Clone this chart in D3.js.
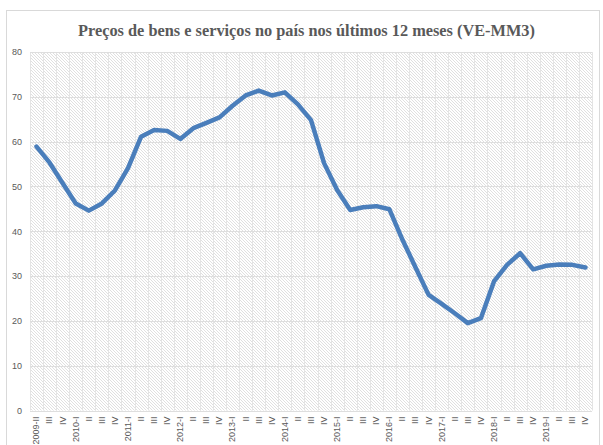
<!DOCTYPE html>
<html>
<head>
<meta charset="utf-8">
<script src="https://cdn.jsdelivr.net/npm/d3@7"></script>
<style>
  body { margin: 0; background: #fff; }
  svg { display: block; }
  .tick text { fill: #595959; font-family: "Liberation Sans", Arial, sans-serif; font-size: 9px; }
</style>
</head>
<body>
<div id="chart"></div>
<script>
// chart data
var title = 'Preços de bens e serviços no país nos últimos 12 meses (VE-MM3)';

var periods = ['2009-II', 'III', 'IV',
    '2010-I', 'II', 'III', 'IV',
    '2011-I', 'II', 'III', 'IV',
    '2012-I', 'II', 'III', 'IV',
    '2013-I', 'II', 'III', 'IV',
    '2014-I', 'II', 'III', 'IV',
    '2015-I', 'II', 'III', 'IV',
    '2016-I', 'II', 'III', 'IV',
    '2017-I', 'II', 'III', 'IV',
    '2018-I', 'II', 'III', 'IV',
    '2019-I', 'II', 'III', 'IV'];

var values = [58.9, 55.3, 50.7, 46.2, 44.6, 46.2, 49.1, 54.1, 61.1, 62.6, 62.4, 60.6, 63.0,
    64.2, 65.4, 68.0, 70.3, 71.4, 70.3, 71.0, 68.3, 64.8,
    55.2, 49.2, 44.75, 45.35, 45.6, 44.9, 38.1, 31.9,
    25.8, 23.8, 21.7, 19.5, 20.6, 28.8, 32.5, 35.1, 31.5, 32.3, 32.6, 32.5, 31.9];

var yTicks = [0, 10, 20, 30, 40, 50, 60, 70, 80];

var width = 603, height = 445;
var margin = { top: 52, right: 11, bottom: 34.5, left: 30 };

var svg = d3.select('#chart').append('svg')
    .attr('width', width)
    .attr('height', height);

// hatch pattern for the plot area
var defs = svg.append('defs');
var pat = defs.append('pattern')
    .attr('id', 'hatch')
    .attr('patternUnits', 'userSpaceOnUse')
    .attr('width', 3).attr('height', 3);
pat.append('rect').attr('width', 3).attr('height', 3).attr('fill', '#fff');
pat.append('path')
    .attr('d', 'M-1,2 L1,4 M0,0 L3,3 M2,-1 L4,1')
    .attr('stroke', '#dddddd')
    .attr('stroke-width', 0.9);

// outer chart border
svg.append('rect')
    .attr('x', 6.5).attr('y', 10.5)
    .attr('width', 593).attr('height', 440)
    .attr('fill', 'none')
    .attr('stroke', '#d9d9d9');

var pw = width - margin.left - margin.right;
var ph = height - margin.top - margin.bottom;

var x = d3.scaleBand()
    .domain(d3.range(periods.length))
    .range([margin.left, margin.left + pw]);

var y = d3.scaleLinear()
    .domain([0, 80])
    .range([margin.top + ph, margin.top]);

svg.append('rect')
    .attr('x', margin.left).attr('y', margin.top)
    .attr('width', pw).attr('height', ph)
    .attr('fill', 'url(#hatch)');

// vertical grid at category boundaries
var vgrid = d3.range(periods.length + 1).map(function (i) {
    return i < periods.length ? x(i) : x.range()[1];
});
svg.append('g').selectAll('line')
    .data(vgrid)
    .enter().append('line')
    .attr('x1', function (d) { return Math.round(d) + 0.5; })
    .attr('x2', function (d) { return Math.round(d) + 0.5; })
    .attr('y1', margin.top)
    .attr('y2', margin.top + ph)
    .attr('stroke', '#e4e4e4');

// horizontal grid
svg.append('g').selectAll('line')
    .data(yTicks)
    .enter().append('line')
    .attr('x1', margin.left)
    .attr('x2', margin.left + pw)
    .attr('y1', function (d) { return Math.round(y(d)) + 0.5; })
    .attr('y2', function (d) { return Math.round(y(d)) + 0.5; })
    .attr('stroke', '#dedede');

// axes
var yAxis = d3.axisLeft(y).tickValues(yTicks).tickSize(0).tickPadding(8);
svg.append('g')
    .attr('transform', 'translate(' + margin.left + ',0)')
    .call(yAxis)
    .call(function (g) { g.select('.domain').remove(); });

var xAxis = d3.axisBottom(x).tickSize(0)
    .tickFormat(function (i) { return periods[i]; });
svg.append('g')
    .attr('transform', 'translate(0,' + (margin.top + ph) + ')')
    .call(xAxis)
    .call(function (g) { g.select('.domain').remove(); })
    .selectAll('text')
    .attr('transform', 'rotate(-90)')
    .attr('text-anchor', 'end')
    .attr('x', -6)
    .attr('y', 0)
    .attr('dy', '0.32em');

// line
var line = d3.line()
    .x(function (d, i) { return x(i) + x.bandwidth() / 2; })
    .y(function (d) { return y(d); });

svg.append('path')
    .attr('d', line(values))
    .attr('fill', 'none')
    .attr('stroke', '#4a7ebb')
    .attr('stroke-width', 4.5)
    .attr('stroke-linejoin', 'round')
    .attr('stroke-linecap', 'round');

// title, sized to the reference width
var t = svg.append('text')
    .attr('x', 306.5)
    .attr('y', 36)
    .attr('text-anchor', 'middle')
    .attr('fill', '#595959')
    .style('font-family', '"Liberation Serif", "DejaVu Serif", serif')
    .style('font-weight', 'bold')
    .style('font-size', '17px')
    .text(title);
var tw = t.node().getComputedTextLength();
t.style('font-size', (17 * 457 / tw).toFixed(2) + 'px');
</script>
</body>
</html>
